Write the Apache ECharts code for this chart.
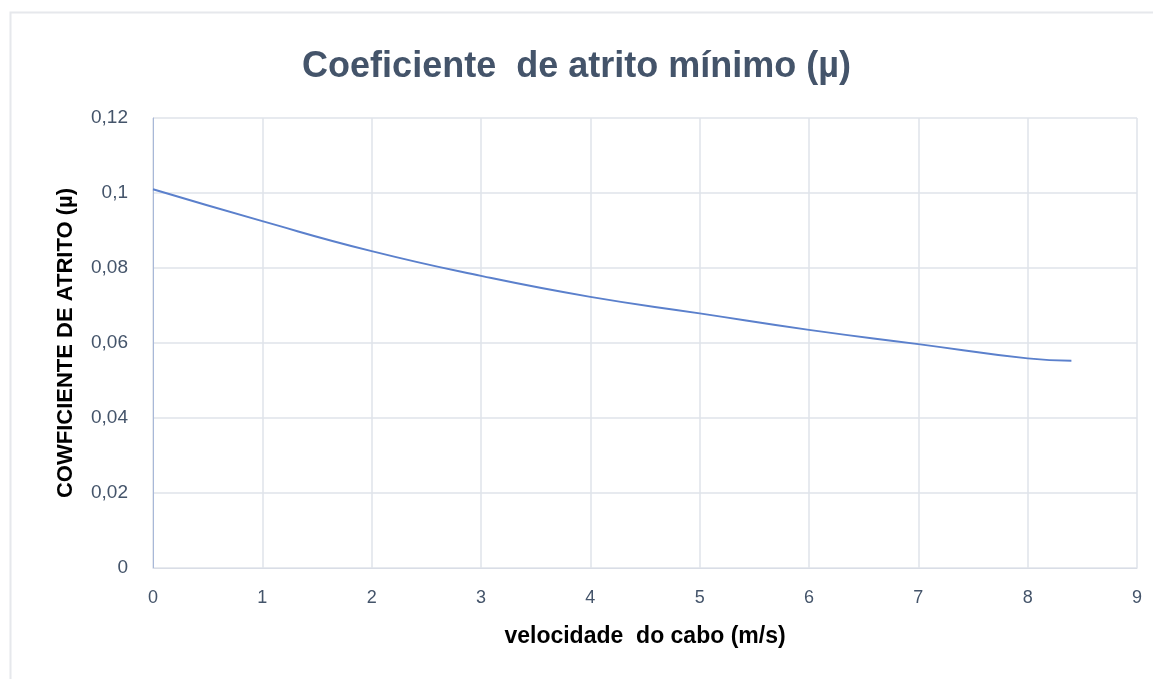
<!DOCTYPE html>
<html>
<head>
<meta charset="utf-8">
<script src="https://cdn.jsdelivr.net/npm/echarts@6/dist/echarts.min.js"></script>
<style>
html,body{margin:0;padding:0;background:#fff;}
#c{width:1153px;height:679px;}
</style>
</head>
<body>
<div id="c"></div>
<script>
const velocidade = [0, 1, 2, 3, 4, 5, 6, 7, 8, 8.4];
const coeficiente = [0.1010, 0.0925, 0.0845, 0.0779, 0.0723, 0.0679, 0.0635, 0.0597, 0.0559, 0.0553];
const xTicks = [0, 1, 2, 3, 4, 5, 6, 7, 8, 9];
const yTicks = [0, 0.02, 0.04, 0.06, 0.08, 0.1, 0.12];
const titleText = 'Coeficiente  de atrito mínimo (µ)';
const xName = 'velocidade  do cabo (m/s)';
const yName = 'COWFICIENTE DE ATRITO (µ)';

const FONT = '"Liberation Sans", Arial, sans-serif';
const chart = echarts.init(document.getElementById('c'));
chart.setOption({
  animation: false,
  backgroundColor: '#fff',
  graphic: [{
    type: 'rect', left: 8, top: 10,
    shape: {width: 1160, height: 700},
    style: {fill: 'none', stroke: '#e6e8ec', lineWidth: 2},
    silent: true, z: -1
  }],
  title: {
    text: titleText, left: 'center', top: 44,
    textStyle: {fontFamily: FONT, fontSize: 36, fontWeight: 'bold', color: '#44546a'}
  },
  grid: {left: 153, right: 16, top: 118, bottom: 111},
  xAxis: {
    type: 'value', min: xTicks[0], max: xTicks[xTicks.length - 1], interval: 1,
    name: xName, nameLocation: 'middle', nameGap: 57,
    nameTextStyle: {fontFamily: FONT, fontSize: 23, fontWeight: 'bold', color: '#000'},
    axisLine: {show: true, lineStyle: {color: '#d9dde6', width: 1}},
    axisTick: {show: false},
    splitLine: {show: true, lineStyle: {color: '#dfe3ea', width: 1.5}},
    axisLabel: {fontFamily: FONT, fontSize: 18, color: '#44546a', margin: 21}
  },
  yAxis: {
    type: 'value', min: yTicks[0], max: yTicks[yTicks.length - 1], interval: 0.02,
    name: yName, nameLocation: 'middle', nameGap: 76, nameRotate: 90,
    nameTextStyle: {fontFamily: FONT, fontSize: 22, fontWeight: 'bold', color: '#000'},
    axisLine: {show: true, lineStyle: {color: '#a8b8d8', width: 1}},
    axisTick: {show: false},
    splitLine: {show: true, lineStyle: {color: '#dfe3ea', width: 1.5}},
    axisLabel: {
      fontFamily: FONT, fontSize: 19, color: '#44546a', margin: 25,
      formatter: v => String(+v.toFixed(2)).replace('.', ',')
    }
  },
  series: [{
    type: 'line', smooth: true, showSymbol: false,
    data: velocidade.map((x, i) => [x, coeficiente[i]]),
    lineStyle: {color: '#5b80cc', width: 2}
  }]
});
</script>
</body>
</html>
